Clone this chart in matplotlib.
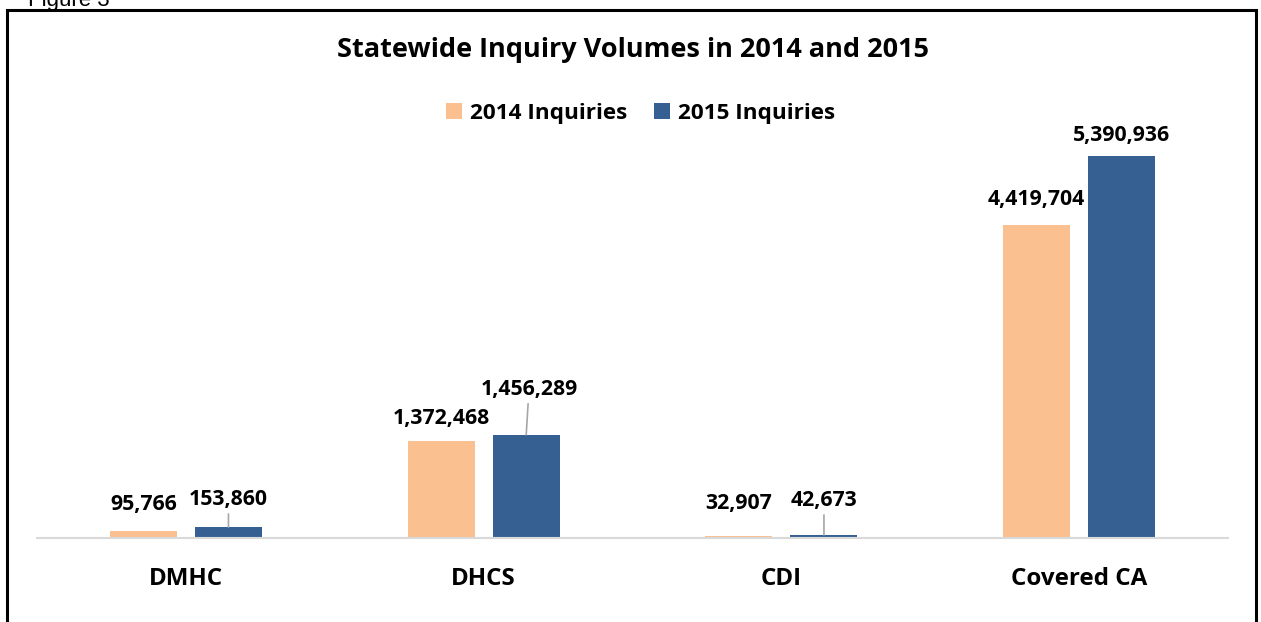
import matplotlib.pyplot as plt
import numpy as np

plt.rcParams['font.family'] = ['Open Sans', 'DejaVu Sans']

# Data
categories = ['DMHC', 'DHCS', 'CDI', 'Covered CA']
inq_2014 = [95766, 1372468, 32907, 4419704]
inq_2015 = [153860, 1456289, 42673, 5390936]

c2014 = '#FAC090'
c2015 = '#376092'

fig = plt.figure(figsize=(12.61, 6.22), dpi=100)
ax = fig.add_axes([37 / 1261, 84 / 622, 1191 / 1261, 430 / 622])

x = np.arange(len(categories))
w = 0.225
off = 0.143
ax.bar(x - off, inq_2014, width=w, color=c2014, label='2014 Inquiries', zorder=2)
ax.bar(x + off, inq_2015, width=w, color=c2015, label='2015 Inquiries', zorder=2)

ax.set_xlim(-0.5, len(categories) - 0.5)
ax.set_ylim(0, 6.07e6)

# Data labels: offset (points) of label centre from the bar top
lbl = dict(ha='center', va='center', fontsize=15.3, fontweight='bold', color='black')
offsets_2014 = [(0, 19), (0, 16), (0, 23), (0, 18)]
offsets_2015 = [(0, 20), (2, 33), (0, 25), (0, 15)]
leader = dict(arrowstyle='-', color='#a6a6a6', lw=1.2, shrinkA=1, shrinkB=0)

for i, v in enumerate(inq_2014):
    ax.annotate(f'{v:,}', xy=(x[i] - off, v), xytext=offsets_2014[i], textcoords='offset points', **lbl)

for i, v in enumerate(inq_2015):
    dy = offsets_2015[i][1]
    ap = leader if dy > 18 else None
    ax.annotate(f'{v:,}', xy=(x[i] + off, v), xytext=offsets_2015[i], textcoords='offset points',
                arrowprops=ap, **lbl)

# Axis styling
for s in ['top', 'right', 'left']:
    ax.spines[s].set_visible(False)
ax.spines['bottom'].set_color('#d9d9d9')
ax.spines['bottom'].set_linewidth(1.5)
ax.set_yticks([])
ax.set_xticks(x)
ax.set_xticklabels(categories, fontsize=17.4, fontweight='bold')
ax.tick_params(axis='x', length=0, pad=21)

# Title and legend
fig.text(0.502, 0.92, 'Statewide Inquiry Volumes in 2014 and 2015', ha='center', va='center',
         fontsize=19.5, fontweight='bold')
fig.legend(loc='center', bbox_to_anchor=(0.508, 0.818), ncol=2, frameon=False,
           prop=dict(size=16.2, weight='bold'), handlelength=0.7, handleheight=0.7,
           handletextpad=0.35, columnspacing=1.2)

# Outer frame and cut-off caption, like the source page
frame = plt.Rectangle((7 / 1261, -0.1), 1249 / 1261, 1.1 - 10 / 622, transform=fig.transFigure,
                      fill=False, edgecolor='black', lw=2.2)
fig.patches.append(frame)
fig.text(28 / 1261, 1.0 + 10 / 622, 'Figure 3', ha='left', va='top', fontsize=16,
         family='Liberation Sans', color='black')

plt.savefig('out.png', dpi=100)
